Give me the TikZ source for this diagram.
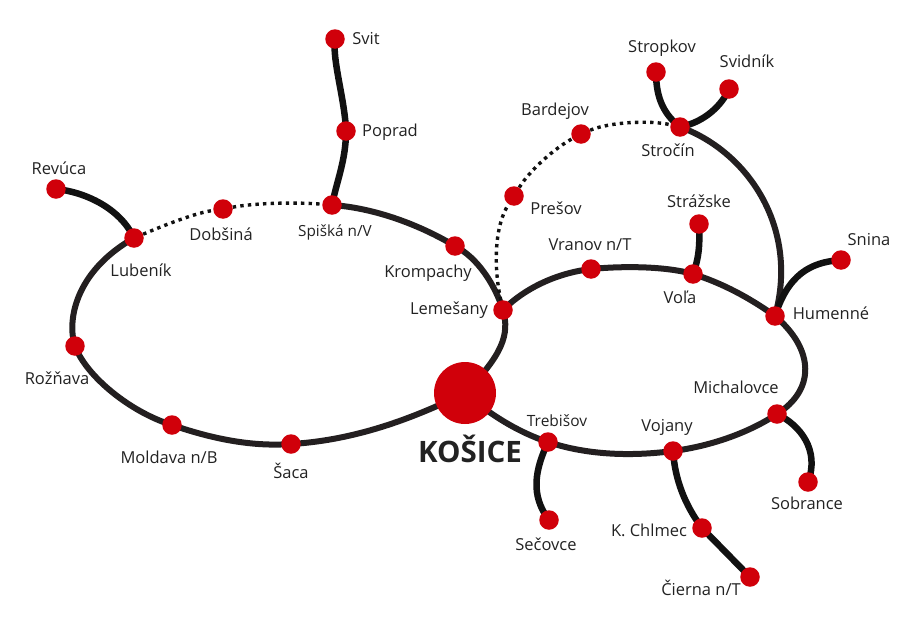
\documentclass[tikz,border=0pt]{standalone}
\usepackage{fontspec}
\setmainfont{Open Sans}
\usetikzlibrary{backgrounds}
\definecolor{stopred}{HTML}{D0000A}
\definecolor{linedark}{HTML}{231F20}
\definecolor{branchdark}{HTML}{111111}
\definecolor{labeltext}{HTML}{222222}
\tikzset{
  stopdot/.style={circle,fill=stopred,draw=none,minimum size=19.5pt,inner sep=0pt},
  hub/.style={circle,fill=stopred,draw=none,minimum size=62pt,inner sep=0pt},
  lbl/.style={font=\fontsize{16.5}{18}\selectfont,text=labeltext,inner sep=0pt},
  mainline/.style={draw=linedark,line width=6pt},
  branchline/.style={draw=branchdark,line width=6.5pt},
  dotline/.style={draw=branchdark,line width=3.4pt,dash pattern=on 3.4pt off 4.2pt}
}
\begin{document}
\begin{tikzpicture}[x=1pt,y=-1pt]
\useasboundingbox (0,0) rectangle (898,624);
\node[stopdot] (svit) at (335,39) {};
\node[stopdot] (poprad) at (346,131) {};
\node[stopdot] (spiska) at (332,205) {};
\node[stopdot] (dobsina) at (223,209) {};
\node[stopdot] (lubenik) at (134,238) {};
\node[stopdot] (revuca) at (56,189) {};
\node[stopdot] (roznava) at (75,346) {};
\node[stopdot] (moldava) at (172,425) {};
\node[stopdot] (saca) at (291,444) {};
\node[hub] (kosice) at (465,393) {};
\node[stopdot] (trebisov) at (548,442) {};
\node[stopdot] (vojany) at (673,451) {};
\node[stopdot] (michalovce) at (777,414) {};
\node[stopdot] (humenne) at (775,316) {};
\node[stopdot] (vola) at (693,274) {};
\node[stopdot] (vranov) at (591,269) {};
\node[stopdot] (lemesany) at (503,310) {};
\node[stopdot] (krompachy) at (455,246) {};
\node[stopdot] (presov) at (514,196) {};
\node[stopdot] (bardejov) at (581,134) {};
\node[stopdot] (strocin) at (680,127) {};
\node[stopdot] (stropkov) at (656,72) {};
\node[stopdot] (svidnik) at (729,89) {};
\node[stopdot] (strazske) at (699,224) {};
\node[stopdot] (snina) at (841,260) {};
\node[stopdot] (secovce) at (549,520) {};
\node[stopdot] (chlmec) at (702,528) {};
\node[stopdot] (cierna) at (750,577) {};
\node[stopdot] (sobrance) at (808,482) {};
\begin{scope}[on background layer]
\path[mainline] (kosice.center) .. controls (420,415) and (360,440) .. (saca.center);
\path[mainline] (saca.center) .. controls (250,447) and (210,438) .. (moldava.center);
\path[mainline] (moldava.center) .. controls (130,412) and (86,376) .. (roznava.center);
\path[mainline] (roznava.center) .. controls (67,322) and (74,272) .. (lubenik.center);
\path[mainline] (spiska.center) .. controls (375,208) and (420,225) .. (krompachy.center);
\path[mainline] (krompachy.center) .. controls (478,258) and (495,285) .. (lemesany.center);
\path[mainline] (lemesany.center) .. controls (510,335) and (502,355) .. (kosice.center);
\path[mainline] (kosice.center) .. controls (490,415) and (520,433) .. (trebisov.center);
\path[mainline] (trebisov.center) .. controls (590,456) and (635,456) .. (vojany.center);
\path[mainline] (vojany.center) .. controls (712,446) and (750,432) .. (michalovce.center);
\path[mainline] (michalovce.center) .. controls (815,390) and (815,350) .. (humenne.center);
\path[mainline] (humenne.center) .. controls (750,298) and (722,283) .. (vola.center);
\path[mainline] (vola.center) .. controls (665,266) and (622,266) .. (vranov.center);
\path[mainline] (vranov.center) .. controls (557,273) and (525,288) .. (lemesany.center);
\path[mainline] (strocin.center) .. controls (745,150) and (800,225) .. (humenne.center);
\path[branchline] (svit.center) .. controls (332,60) and (345,100) .. (poprad.center);
\path[branchline] (poprad.center) .. controls (346,160) and (337,180) .. (spiska.center);
\path[branchline] (revuca.center) .. controls (85,192) and (120,208) .. (lubenik.center);
\path[branchline] (stropkov.center) .. controls (656,100) and (665,115) .. (strocin.center);
\path[branchline] (svidnik.center) .. controls (722,105) and (705,122) .. (strocin.center);
\path[branchline] (strazske.center) .. controls (700,245) and (699,258) .. (vola.center);
\path[branchline] (snina.center) .. controls (810,262) and (788,275) .. (humenne.center);
\path[branchline] (trebisov.center) .. controls (535,470) and (530,495) .. (secovce.center);
\path[branchline] (vojany.center) .. controls (675,480) and (685,505) .. (chlmec.center);
\path[branchline] (chlmec.center) -- (cierna.center);
\path[branchline] (michalovce.center) .. controls (800,425) and (820,450) .. (sobrance.center);
\path[dotline] (lubenik) .. controls (165,225) and (195,213) .. (dobsina);
\path[dotline] (dobsina) .. controls (255,203) and (295,202) .. (spiska);
\path[dotline] (lemesany) .. controls (493,265) and (495,225) .. (presov);
\path[dotline] (presov) .. controls (530,170) and (555,148) .. (bardejov);
\path[dotline] (bardejov) .. controls (610,122) and (650,120) .. (strocin);
\end{scope}
\node[lbl] (tsvit) at (366,39) {Svit};
\node[lbl] (tpoprad) at (390,132) {Poprad};
\node[lbl,font=\fontsize{15.3}{17}\selectfont] (tspiska) at (335,232) {Spišká n/V};
\node[lbl] (tdobsina) at (221,234) {Dobšiná};
\node[lbl] (tlubenik) at (141,270) {Lubeník};
\node[lbl] (trevuca) at (59,168) {Revúca};
\node[lbl] (troznava) at (57,378) {Rožňava};
\node[lbl] (tmoldava) at (169,457) {Moldava n/B};
\node[lbl] (tsaca) at (291,471) {Šaca};
\node[lbl] (tkrompachy) at (428,273) {Krompachy};
\node[lbl] (tlemesany) at (449,310) {Lemešany};
\node[lbl] (tbardejov) at (555,111) {Bardejov};
\node[lbl] (tpresov) at (556,208) {Prešov};
\node[lbl] (tvranov) at (590,245) {Vranov n/T};
\node[lbl] (tvola) at (680,297) {Voľa};
\node[lbl] (tstrazske) at (699,201) {Strážske};
\node[lbl] (tstrocin) at (668,150) {Stročín};
\node[lbl] (tstropkov) at (662,48) {Stropkov};
\node[lbl] (tsvidnik) at (747,61) {Svidník};
\node[lbl] (tsnina) at (869,240) {Snina};
\node[lbl] (thumenne) at (831,313) {Humenné};
\node[lbl] (tmichalovce) at (736,387) {Michalovce};
\node[lbl,font=\fontsize{15.5}{17}\selectfont] (ttrebisov) at (557,421) {Trebišov};
\node[lbl] (tvojany) at (667,427) {Vojany};
\node[lbl] (tsobrance) at (807,503) {Sobrance};
\node[lbl] (tsecovce) at (546,544) {Sečovce};
\node[lbl] (tchlmec) at (649,530) {K. Chlmec};
\node[lbl] (tcierna) at (701,588) {Čierna n/T};
\node[lbl,font=\fontsize{29.5}{32}\selectfont\bfseries] (tkosice) at (470,449) {KOŠICE};
\end{tikzpicture}
\end{document}
